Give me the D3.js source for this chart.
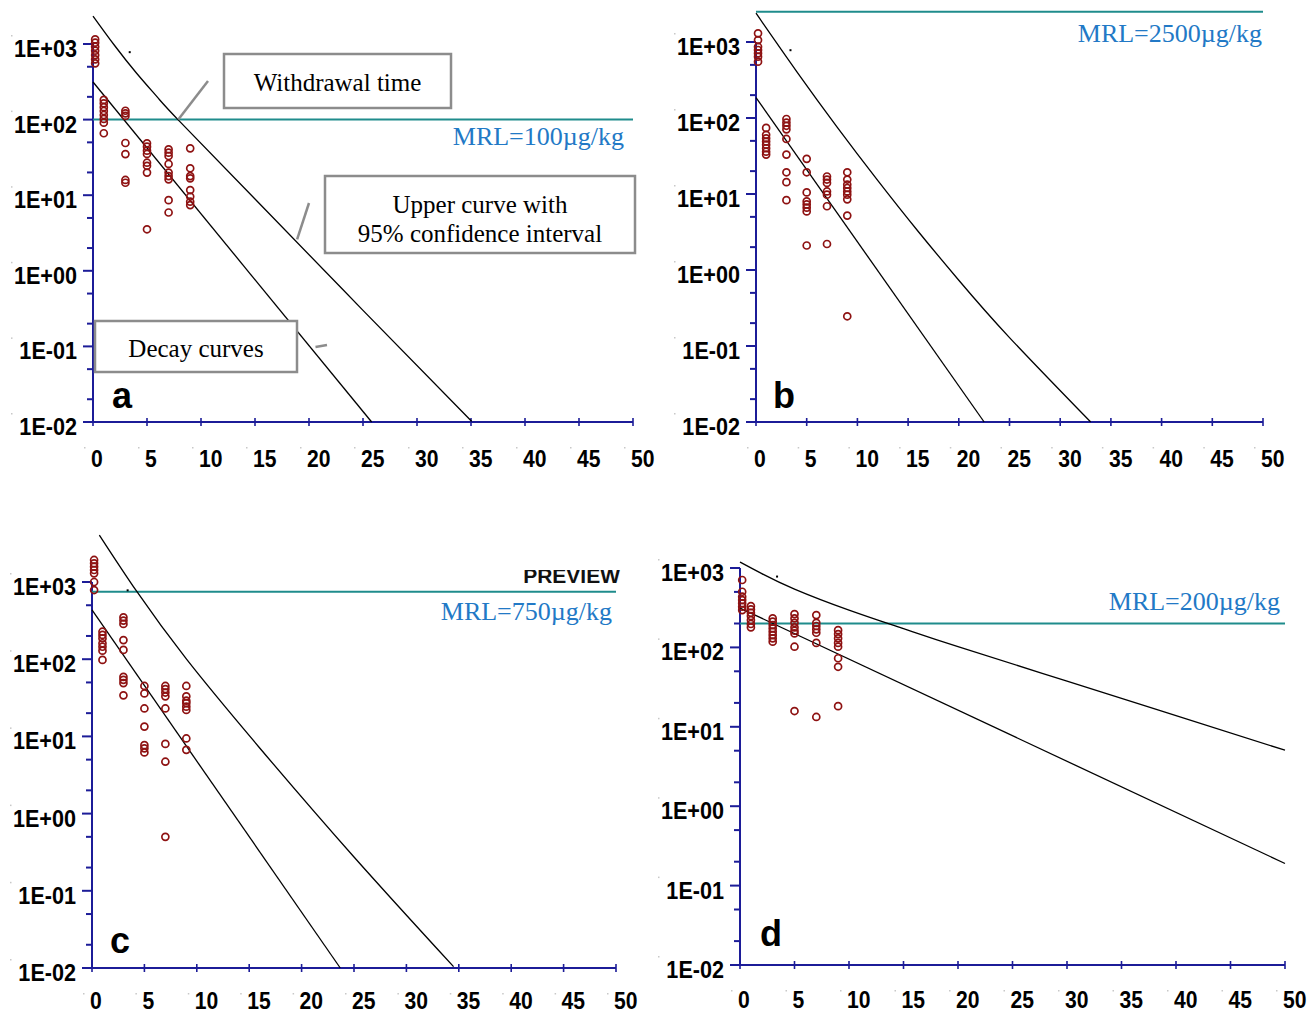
<!DOCTYPE html>
<html>
<head>
<meta charset="utf-8">
<script src="https://cdn.jsdelivr.net/npm/d3@7"></script>
<style>
  body { margin: 0; background: #fff; }
  svg { display: block; }
</style>
</head>
<body>
<svg id="chart" width="1309" height="1015"></svg>
<script>
// ---- Shared axis values --------------------------------------------------
const xTickValues = [0, 5, 10, 15, 20, 25, 30, 35, 40, 45, 50];
const yTickValues = [1e-2, 1e-1, 1e0, 1e1, 1e2, 1e3];
const yTickLabels = ["1E-02", "1E-01", "1E+00", "1E+01", "1E+02", "1E+03"];
const yMinorValues = [0.02, 0.05, 0.2, 0.5, 2, 5, 20, 50, 200, 500];

// Sampling days (withdrawal period, days); first sampling a few hours after dosing
const sampleDays = [0.2, 1, 3, 5, 7, 9];

// ---- Residue concentrations (µg/kg), one list per sampling day ------------
const residuesA = [
  [1150, 1040, 920, 815, 714, 627, 555],
  [182, 164, 146, 130, 115, 102, 91, 66],
  [131, 121, 112, 49, 35, 15.9, 14.6],
  [48.6, 43.9, 38.8, 35.1, 26.9, 24.5, 19.9, 3.54],
  [40.5, 36.5, 33, 25.9, 19.9, 17.9, 16.2, 8.6, 5.9],
  [41.7, 22.7, 17.9, 16.7, 11.7, 9.6, 8.2, 7.4]
];
const residuesB = [
  [1300, 1060, 867, 785, 710, 641, 551],
  [74, 60, 54, 49, 44.5, 40, 36, 33],
  [97, 87, 79, 71, 53, 33, 19.3, 14.3, 8.3],
  [29, 19.3, 10.5, 8.0, 7.3, 6.6, 5.9, 2.1],
  [17, 15.5, 14, 10.8, 9.8, 6.9, 2.2],
  [19.3, 15.5, 13.3, 12, 10.8, 9.8, 8.5, 5.2, 0.246]
];
const residuesC = [
  [1930, 1745, 1580, 1430, 1295, 1000, 787],
  [227, 206, 186, 161, 145, 129, 98],
  [349, 316, 286, 177, 132, 59, 54, 49, 34],
  [45, 36, 23, 13.4, 7.7, 7.0, 6.2],
  [45, 41, 37, 33, 23, 8.0, 4.7, 0.5],
  [45, 33, 29, 27, 24.3, 22, 9.4, 6.7]
];
const residuesD = [
  [706, 502, 435, 395, 359, 325, 295],
  [331, 301, 273, 248, 221, 197, 179],
  [232, 211, 191, 174, 158, 143, 130, 118],
  [263, 232, 204, 179, 162, 150, 102, 15.8],
  [255, 204, 186, 169, 153, 114, 13.3],
  [165, 147, 130, 114, 102, 73, 57, 18.2]
];

// ---- Fitted decay lines and upper 95% curves: [day, µg/kg] ----------------
const lowerA = [[0, 314], [25.8, 0.01]];
const upperA = [[0, 2344], [2, 955], [4, 417], [6, 195], [8, 95.5], [15, 8.9], [25, 0.30], [35.06, 0.0102]];
const lowerB = [[0, 186], [22.5, 0.01]];
const upperB = [[0, 2390], [4, 411], [8, 75.9], [12, 15.1], [16, 3.21], [20, 0.734], [25, 0.129], [33, 0.01]];
const lowerC = [[0, 434], [23.69, 0.01]];
const upperC = [[0.7, 4060], [4.29, 748], [9, 100.7], [15.9, 7.35], [25, 0.274], [34.5, 0.0104]];
const lowerD = [[0, 313], [50, 0.19]];
const upperD = [[0, 1190], [2, 851], [5, 543], [10, 295], [15, 172], [20, 102], [30, 37.6], [40, 13.8], [50, 5.07]];

// Maximum residue limits (µg/kg)
const mrlValues = [100, 2500, 750, 200];
const mrlLabels = ["MRL=100µg/kg", "MRL=2500µg/kg", "MRL=750µg/kg", "MRL=200µg/kg"];
const panelLetters = ["a", "b", "c", "d"];
// small reference dot drawn in every panel
const refDot = [3.4, 780];

// ---- Panel frames (pixel layout) -----------------------------------------
const frames = [
  { x0: 93,  x1: 633,  yTop: 44,  yBot: 422, xLabDy: 45, mrlDy: 25,  mrlDx: -9, letterDx: 19, letterDy: -14 },
  { x0: 756, x1: 1263, yTop: 42,  yBot: 422, xLabDy: 45, mrlDy: 30,  mrlDx: -1, letterDx: 17, letterDy: -14 },
  { x0: 92,  x1: 616,  yTop: 582, yBot: 968, xLabDy: 41, mrlDy: 28,  mrlDx: -4, letterDx: 18, letterDy: -15 },
  { x0: 740, x1: 1285, yTop: 568, yBot: 965, xLabDy: 43, mrlDy: -13, mrlDx: -5, letterDx: 20, letterDy: -19 }
];
const residueSets = [residuesA, residuesB, residuesC, residuesD];
const lowerSets = [lowerA, lowerB, lowerC, lowerD];
const upperSets = [upperA, upperB, upperC, upperD];

const AXIS = "#1c1c98";
const TEAL = "#1f8c8c";
const MRLBLUE = "#2279c6";
const DOTRED = "#8e1212";
const SANS = "'Liberation Sans', Arial, sans-serif";
const SERIF = "'Liberation Serif', 'Times New Roman', serif";

const svg = d3.select("#chart");
svg.append("rect").attr("width", 1309).attr("height", 1015).attr("fill", "#fff");

function drawPanel(i) {
  const f = frames[i];
  const x = d3.scaleLinear().domain([0, 50]).range([f.x0, f.x1]);
  const y = d3.scaleLog().domain([1e-2, 1e3]).range([f.yBot, f.yTop]);
  const g = svg.append("g").attr("class", "panel-" + panelLetters[i]);

  // y axis
  g.append("line").attr("x1", f.x0).attr("x2", f.x0)
    .attr("y1", y(1e3)).attr("y2", y(1e-2))
    .attr("stroke", AXIS).attr("stroke-width", 2);
  g.selectAll("line.ymaj").data(yTickValues).join("line")
    .attr("x1", f.x0 - 10).attr("x2", f.x0)
    .attr("y1", d => y(d)).attr("y2", d => y(d))
    .attr("stroke", AXIS).attr("stroke-width", 2);
  g.selectAll("line.ymin").data(yMinorValues).join("line")
    .attr("x1", f.x0 - 6).attr("x2", f.x0)
    .attr("y1", d => y(d)).attr("y2", d => y(d))
    .attr("stroke", AXIS).attr("stroke-width", 2);
  yTickValues.forEach((v, k) => {
    g.append("text")
      .attr("transform", `translate(${f.x0 - 16},${y(v) + 13}) scale(0.9,1)`)
      .attr("text-anchor", "end")
      .attr("font-family", SANS).attr("font-weight", "bold").attr("font-size", 24)
      .attr("fill", "#000").text(yTickLabels[k]);
    g.append("rect").attr("x", f.x0 - 82).attr("y", y(v) - 9)
      .attr("width", 1.5).attr("height", 1.5).attr("fill", "#c8c8c8");
  });

  // x axis
  g.append("line").attr("x1", x(0)).attr("x2", x(50))
    .attr("y1", f.yBot).attr("y2", f.yBot)
    .attr("stroke", AXIS).attr("stroke-width", 2);
  g.selectAll("line.xt").data(xTickValues).join("line")
    .attr("x1", d => x(d)).attr("x2", d => x(d))
    .attr("y1", f.yBot - 4).attr("y2", f.yBot + 4)
    .attr("stroke", AXIS).attr("stroke-width", 1.6);
  xTickValues.forEach(v => {
    g.append("text")
      .attr("transform", `translate(${x(v) - 2},${f.yBot + f.xLabDy}) scale(0.88,1)`)
      .attr("text-anchor", "start")
      .attr("font-family", SANS).attr("font-weight", "bold").attr("font-size", 24)
      .attr("fill", "#000").text(String(v));
    g.append("rect").attr("x", x(v) - 9).attr("y", f.yBot + 25)
      .attr("width", 1.5).attr("height", 1.5).attr("fill", "#c8c8c8");
  });

  // MRL line and label
  g.append("line").attr("x1", x(0)).attr("x2", x(50))
    .attr("y1", y(mrlValues[i])).attr("y2", y(mrlValues[i]))
    .attr("stroke", TEAL).attr("stroke-width", 2);
  g.append("text")
    .attr("x", x(50) + f.mrlDx).attr("y", y(mrlValues[i]) + f.mrlDy)
    .attr("text-anchor", "end")
    .attr("font-family", SERIF).attr("font-size", 26)
    .attr("fill", MRLBLUE).text(mrlLabels[i]);

  // decay line and upper curve
  const line = d3.line().x(d => x(d[0])).y(d => y(d[1])).curve(d3.curveNatural);
  [lowerSets[i], upperSets[i]].forEach(s => {
    g.append("path").attr("d", line(s))
      .attr("fill", "none").attr("stroke", "#000").attr("stroke-width", 1.3);
  });

  // residue observations
  const pts = [];
  residueSets[i].forEach((vals, k) => vals.forEach(v => pts.push([sampleDays[k], v])));
  g.selectAll("circle.obs").data(pts).join("circle")
    .attr("cx", d => x(d[0])).attr("cy", d => y(d[1])).attr("r", 3.5)
    .attr("fill", "none").attr("stroke", DOTRED).attr("stroke-width", 1.7);

  g.append("rect").attr("x", x(refDot[0]) - 1).attr("y", y(refDot[1]) - 1)
    .attr("width", 2).attr("height", 2).attr("fill", "#000");

  // panel letter
  g.append("text")
    .attr("x", f.x0 + f.letterDx).attr("y", f.yBot + f.letterDy)
    .attr("font-family", SANS).attr("font-weight", "bold").attr("font-size", 36)
    .attr("fill", "#000").text(panelLetters[i]);

  return { g, x, y, f };
}

const drawn = [0, 1, 2, 3].map(drawPanel);

// ---- Explanatory call-outs in panel a -------------------------------------
const pa = drawn[0];
const callouts = [
  { box: [131, 10, 227, 54], lines: ["Withdrawal time"], base: [37], from: [115, 37], to: [7.9, 100] },
  { box: [232, 132, 310, 77], lines: ["Upper curve with", "95% confidence interval"], base: [37, 66], from: [216, 159], to: [18.9, 2.6] },
  { box: [2, 277, 202, 51], lines: ["Decay curves"], base: [36], from: [234, 301], to: [20.6, 0.098] }
];
callouts.forEach(c => {
  const bx = pa.f.x0 + c.box[0], by = pa.f.yTop + c.box[1];
  pa.g.append("line")
    .attr("x1", pa.f.x0 + c.from[0]).attr("y1", pa.f.yTop + c.from[1])
    .attr("x2", pa.x(c.to[0])).attr("y2", pa.y(c.to[1]))
    .attr("stroke", "#8c8c8c").attr("stroke-width", 2.5);
  pa.g.append("rect").attr("x", bx).attr("y", by)
    .attr("width", c.box[2]).attr("height", c.box[3])
    .attr("fill", "#fff").attr("stroke", "#8c8c8c").attr("stroke-width", 2.5);
  c.lines.forEach((t, k) => {
    pa.g.append("text")
      .attr("x", bx + c.box[2] / 2).attr("y", by + c.base[k])
      .attr("text-anchor", "middle")
      .attr("font-family", SERIF).attr("font-size", 25)
      .attr("fill", "#000").text(t);
  });
});

// ---- Watermark fragment above panel c -------------------------------------
const pc = drawn[2];
svg.append("clipPath").attr("id", "wm-clip")
  .append("rect").attr("x", 500).attr("y", pc.f.yTop - 12).attr("width", 140).attr("height", 30);
svg.append("text")
  .attr("clip-path", "url(#wm-clip)")
  .attr("x", 620).attr("y", pc.f.yTop + 1)
  .attr("text-anchor", "end")
  .attr("font-family", SANS).attr("font-weight", "bold").attr("font-size", 21)
  .attr("fill", "#111").text("PREVIEW");
</script>
</body>
</html>
